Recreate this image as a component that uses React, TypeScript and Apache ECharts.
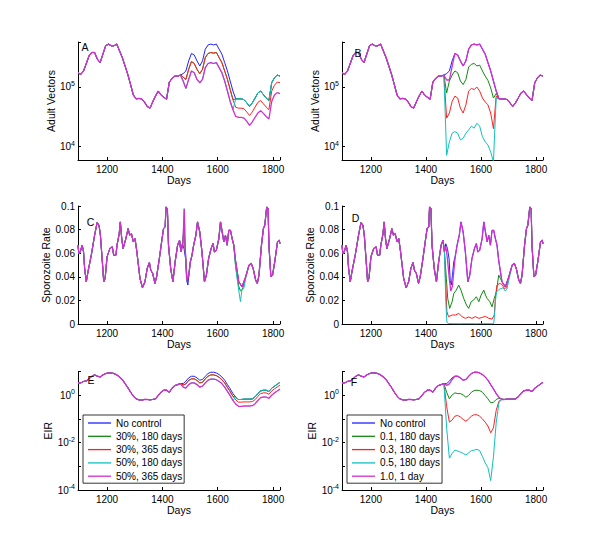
import React, { useEffect, useRef } from "react";
import * as echarts from "echarts";

// ---------- sampling grid (days) ----------
const DAYS = [1095,1105,1115,1125,1135,1145,1155,1165,1175,1185,1195,1205,1215,1225,1235,1245,1255,1265,1275,1285,1295,1305,1315,1325,1335,1345,1355,1365,1375,1385,1395,1405,1415,1425,1435,1445,1455,1465,1475,1485,1495,1505,1515,1525,1535,1545,1555,1565,1575,1585,1595,1605,1615,1625,1635,1645,1655,1665,1675,1685,1695,1705,1715,1725,1735,1745,1755,1765,1775,1785,1795,1805,1815,1825];

// ---------- Adult vectors ----------
const VEC_NO_CONTROL = [1.72e5,1.61e5,1.84e5,2.45e5,3.29e5,3.74e5,3.74e5,2.89e5,2.54e5,3.51e5,4.84e5,5.17e5,4.84e5,4.84e5,5.17e5,3.99e5,3.08e5,2.23e5,1.61e5,1.09e5,7.3e4,6.3e4,6.4e4,6.3e4,5.6e4,4.7e4,4.4e4,5.6e4,7.0e4,8.5e4,7.3e4,6.7e4,6.2e4,1.2e5,1.38e5,1.51e5,1.51e5,1.57e5,1.66e5,1.84e5,2.71e5,3.6e5,3.4e5,2.71e5,2.23e5,2.71e5,4.25e5,5.0e5,5.17e5,5.0e5,5.17e5,4.25e5,3.51e5,2.54e5,1.84e5,1.25e5,8.5e4,6.3e4,6.3e4,6.3e4,6.1e4,5.4e4,4.7e4,5.4e4,6.5e4,7.9e4,8.5e4,7.4e4,6.5e4,5.9e4,1.17e5,1.42e5,1.57e5,1.51e5];
// from day 1475 on
const VEC_30PCT = [1.45e5,1.33e5,1.96e5,2.65e5,2.45e5,1.96e5,1.66e5,1.96e5,3.08e5,3.6e5,3.74e5,3.65e5,3.74e5,3.08e5,2.54e5,1.84e5,1.33e5,9.0e4,6.1e4,4.55e4,4.4e4,4.4e4,4.3e4,3.8e4,3.33e4,3.8e4,4.6e4,5.5e4,5.9e4,5.2e4,4.6e4,4.15e4,8.5e4,1.06e5,1.2e5,1.17e5];
const VEC_50PCT = [1.25e5,9.4e4,1.33e5,1.84e5,1.72e5,1.33e5,1.17e5,1.33e5,2.09e5,2.45e5,2.54e5,2.45e5,2.54e5,2.09e5,1.72e5,1.25e5,8.5e4,5.7e4,4.15e4,3.2e4,3.1e4,3.1e4,3.0e4,2.64e4,2.27e4,2.6e4,3.1e4,3.65e4,4.0e4,3.6e4,3.2e4,2.9e4,5.7e4,7.3e4,8.0e4,7.7e4];
// from day 1475 to 1655
const VEC_B01 = [7.9e4,1.25e5,1.57e5,1.84e5,1.72e5,1.25e5,1.09e5,1.33e5,2.14e5,2.38e5,2.45e5,2.23e5,2.3e5,1.84e5,1.51e5,1.28e5,9.6e4,6.5e4,7.7e4];
const VEC_B03 = [3.0e4,3.65e4,5.7e4,7.0e4,6.5e4,4.4e4,3.65e4,5.0e4,8.5e4,9.4e4,9.0e4,9.9e4,8.5e4,6.5e4,5.6e4,5.0e4,3.65e4,2.0e4,7.0e4];
const VEC_B05 = [7.2e3,1.21e4,1.68e4,1.79e4,1.68e4,1.3e4,1.38e4,1.68e4,1.91e4,2.2e4,2.04e4,2.47e4,2.2e4,1.47e4,1.21e4,1.07e4,8.2e3,5.6e3,6.5e4];
const VEC_B1DAY = [1.3e5,1.3e5,2.2e5];

// ---------- Sporozoite rate ----------
const SPZ_DAYS = [1095,1098,1103,1110,1115,1119,1125,1131,1143,1155,1164,1171,1176,1183,1188,1193,1200,1210,1219,1224,1232,1236,1244,1248,1253,1258,1268,1276,1282,1288,1295,1301,1307,1319,1328,1337,1345,1353,1358,1365,1373,1379,1389,1398,1404,1410,1413,1418,1422,1430,1438,1446,1455,1462,1467,1472,1478,1484,1488,1492,1496,1501,1507,1513,1521,1527,1535,1543,1552,1559,1567,1576,1583,1588,1595,1604,1610,1616,1622,1628,1634,1640,1646,1652,1658,1664,1676,1688,1701,1713,1721,1728,1737,1743,1749,1758,1765,1770,1777,1782,1785,1792,1798,1806,1816,1822,1825];
const SPZ_NO_CONTROL = [0.0668,0.0597,0.0611,0.0668,0.0611,0.047,0.0358,0.0442,0.0583,0.0752,0.0859,0.0837,0.0752,0.0527,0.0358,0.0386,0.0569,0.0639,0.0654,0.0583,0.0583,0.0668,0.0766,0.0865,0.0724,0.0639,0.0724,0.0808,0.0752,0.0766,0.0696,0.0724,0.0625,0.0386,0.0307,0.0358,0.047,0.0521,0.0456,0.0428,0.0344,0.04,0.0555,0.071,0.0808,0.0823,0.0992,0.0977,0.0668,0.047,0.0358,0.0527,0.0668,0.071,0.0611,0.068,0.064,0.055,0.037,0.033,0.041,0.0527,0.0583,0.0668,0.0752,0.0865,0.078,0.0611,0.0358,0.0414,0.0555,0.0639,0.0682,0.0611,0.0625,0.0724,0.0865,0.078,0.0696,0.0752,0.0668,0.0794,0.0794,0.0724,0.0668,0.0541,0.0358,0.0315,0.04,0.0499,0.0513,0.047,0.0372,0.0344,0.0414,0.0668,0.0808,0.0837,0.0992,0.0977,0.0668,0.04,0.0414,0.0527,0.0696,0.071,0.0682];
const SPZ_C50_DAYS = [1467,1474,1479,1482,1488,1495,1501];
const SPZ_C50 = [0.0611,0.0668,0.0977,0.0668,0.0372,0.0414,0.0527];
const SPZ_C30_DAYS = [1467,1474,1478,1482,1487,1490,1495,1501];
const SPZ_C30 = [0.0611,0.07,0.082,0.065,0.045,0.036,0.0414,0.0527];
const SPZ_C30_END_DAYS = [1658,1664,1670,1676,1682,1688,1694,1701];
const SPZ_C30_END = [0.0668,0.05,0.04,0.032,0.028,0.029,0.033,0.04];
const SPZ_C50_END_DAYS = [1658,1664,1673,1682,1688,1694,1701];
const SPZ_C50_END = [0.0668,0.05,0.033,0.019,0.0296,0.03,0.0386];
const SPZ_D01_DAYS = [1467,1474,1479,1486,1495,1501,1510,1519,1527,1537,1547,1555,1564,1573,1583,1592,1600,1610,1616,1622,1632,1640,1648,1656,1664,1670,1676];
const SPZ_D01 = [0.0611,0.0386,0.0217,0.0132,0.0189,0.0259,0.0287,0.033,0.0287,0.0217,0.0161,0.0132,0.0189,0.0203,0.0231,0.0189,0.0245,0.0287,0.0245,0.0217,0.0189,0.0146,0.0217,0.0273,0.0414,0.0386,0.0358];
const SPZ_D03_DAYS = [1467,1472,1476,1482,1495,1507,1519,1531,1543,1555,1567,1579,1592,1604,1616,1628,1640,1648,1653,1658,1668,1676,1685,1692];
const SPZ_D03 = [0.0611,0.033,0.0104,0.0062,0.0076,0.0076,0.009,0.0062,0.0048,0.0059,0.0048,0.0062,0.0048,0.0056,0.0065,0.0048,0.0042,0.0076,0.0245,0.033,0.0344,0.0335,0.0301,0.0307];
const SPZ_D05_DAYS = [1467,1472,1476,1482,1495,1520,1550,1580,1610,1640,1646,1649,1652,1656,1668,1680,1688,1694,1701];
const SPZ_D05 = [0.0611,0.0189,0.0014,0.0004,0.0003,0.0002,0.0003,0.0002,0.0003,0.0002,0.0004,0.0076,0.0189,0.0273,0.0296,0.0307,0.0279,0.0296,0.0372];
const SPZ_D1DAY_DAYS = [1467,1472,1478,1484,1490,1496,1501];
const SPZ_D1DAY = [0.0611,0.066,0.055,0.04,0.028,0.032,0.045];

// ---------- EIR ----------
const EIR_NO_CONTROL = [3.3,3.3,3.8,4.0,4.9,6.3,7.2,6.3,5.9,7.2,8.2,8.7,8.7,8.2,7.2,5.9,4.6,3.1,2.1,1.34,0.91,0.7,0.64,0.62,0.66,0.66,0.64,0.66,0.7,0.97,1.34,1.62,1.62,1.34,2.0,2.55,2.8,3.1,3.1,3.9,5.4,6.3,6.3,5.4,4.3,4.6,6.3,8.2,9.3,9.3,8.7,7.4,5.9,4.3,2.8,1.85,1.17,0.82,0.66,0.66,0.68,0.68,0.68,0.7,0.85,1.17,1.52,1.62,1.62,1.43,1.97,2.4,2.9,3.5];
const EIR_30PCT = [2.7,3.0,4.2,4.9,4.9,4.2,3.3,3.5,4.9,6.3,7.2,7.2,6.7,5.7,4.5,3.3,2.15,1.42,0.9,0.63,0.51,0.51,0.52,0.52,0.52,0.54,0.65,0.9,1.17,1.25,1.25,1.1,1.5,1.85,2.2,2.7];
const EIR_50PCT = [2.2,2.0,2.8,3.3,3.3,2.8,2.2,2.4,3.3,4.3,4.8,4.8,4.5,3.8,3.1,2.2,1.45,0.96,0.6,0.42,0.34,0.34,0.35,0.35,0.35,0.36,0.44,0.6,0.79,0.84,0.84,0.74,1.0,1.25,1.5,1.8];
// from day 1475 to 1675
const EIR_F01 = [1.34,0.7,1.03,1.25,1.17,1.17,1.03,0.82,0.97,1.34,1.57,1.62,1.57,1.34,0.97,0.7,0.48,0.5,0.66,0.75,0.7];
const EIR_F03 = [0.34,0.073,0.089,0.13,0.14,0.12,0.095,0.08,0.1,0.13,0.15,0.15,0.13,0.1,0.073,0.05,0.026,0.042,0.23,0.56,0.66];
const EIR_F05 = [0.042,0.0022,0.0035,0.0048,0.0044,0.004,0.0035,0.003,0.0037,0.0046,0.0048,0.0052,0.0046,0.0026,0.0014,0.00088,0.00025,0.0025,0.068,0.48,0.66];
const EIR_F1DAY = [2.6,3.0,4.6];

const NAMES_LEFT = ["No control", "30%, 180 days", "30%, 365 days", "50%, 180 days", "50%, 365 days"];
const NAMES_RIGHT = ["No control", "0.1, 180 days", "0.3, 180 days", "0.5, 180 days", "1.0, 1 day"];
const PANEL_LETTERS = ["A", "B", "C", "D", "E", "F"];

const COLORS = ["#2020ff", "#108a10", "#ff2020", "#10c0c0", "#d030d0"];
const WIDTHS = [1, 1, 1, 1, 1.3];
const FONT = "'Liberation Sans', Arial, Helvetica, sans-serif";

const POST = DAYS.slice(38);

function pts(days: number[], vals: number[]) {
  return days.map((d, i) => [d, vals[i]]);
}
function splice(base: number[][], segDays: number[], segVals: number[]) {
  const s = segDays[0];
  const e = segDays[segDays.length - 1];
  const out = base.filter((p) => p[0] < s || p[0] > e);
  segDays.forEach((d, i) => out.push([d, segVals[i]]));
  return out.sort((a, b) => a[0] - b[0]);
}

function buildOption() {
  const vecNC = pts(DAYS, VEC_NO_CONTROL);
  const spzNC = pts(SPZ_DAYS, SPZ_NO_CONTROL);
  const eirNC = pts(DAYS, EIR_NO_CONTROL);
  const P180 = POST.slice(0, 19);

  const panels: number[][][][] = [
    [
      vecNC,
      splice(vecNC, P180, VEC_30PCT.slice(0, 19)),
      splice(vecNC, POST, VEC_30PCT),
      splice(vecNC, P180, VEC_50PCT.slice(0, 19)),
      splice(vecNC, POST, VEC_50PCT),
    ],
    [
      vecNC,
      splice(vecNC, P180, VEC_B01),
      splice(vecNC, P180, VEC_B03),
      splice(vecNC, P180, VEC_B05),
      splice(vecNC, POST.slice(0, 3), VEC_B1DAY),
    ],
    [
      spzNC,
      splice(splice(spzNC, SPZ_C30_DAYS, SPZ_C30), SPZ_C30_END_DAYS, SPZ_C30_END),
      splice(spzNC, SPZ_C30_DAYS, SPZ_C30),
      splice(splice(spzNC, SPZ_C50_DAYS, SPZ_C50), SPZ_C50_END_DAYS, SPZ_C50_END),
      splice(spzNC, SPZ_C50_DAYS, SPZ_C50),
    ],
    [
      spzNC,
      splice(spzNC, SPZ_D01_DAYS, SPZ_D01),
      splice(spzNC, SPZ_D03_DAYS, SPZ_D03),
      splice(spzNC, SPZ_D05_DAYS, SPZ_D05),
      splice(spzNC, SPZ_D1DAY_DAYS, SPZ_D1DAY),
    ],
    [
      eirNC,
      splice(eirNC, P180, EIR_30PCT.slice(0, 19)),
      splice(eirNC, POST, EIR_30PCT),
      splice(eirNC, P180, EIR_50PCT.slice(0, 19)),
      splice(eirNC, POST, EIR_50PCT),
    ],
    [
      eirNC,
      splice(eirNC, POST.slice(0, 21), EIR_F01),
      splice(eirNC, POST.slice(0, 21), EIR_F03),
      splice(eirNC, POST.slice(0, 21), EIR_F05),
      splice(eirNC, POST.slice(0, 3), EIR_F1DAY),
    ],
  ];

  const grids = [
    { left: 78, top: 42, width: 202, height: 118 },
    { left: 342, top: 42, width: 201, height: 118 },
    { left: 78, top: 206, width: 202, height: 118 },
    { left: 342, top: 206, width: 201, height: 118 },
    { left: 78, top: 371.5, width: 202, height: 118.5 },
    { left: 342, top: 371.5, width: 201, height: 118.5 },
  ];

  const axisCommon = {
    axisLine: { show: true, onZero: false, lineStyle: { color: "#000", width: 1 } },
    axisTick: { show: true, inside: true, length: 3, lineStyle: { color: "#000", width: 1 } },
    splitLine: { show: false },
    nameLocation: "middle",
    nameTextStyle: { color: "#000", fontSize: 10.5, fontFamily: FONT },
  };

  const xAxis = grids.map((_, i) => ({
    ...axisCommon,
    type: "value",
    gridIndex: i,
    min: 1095,
    max: 1825,
    splitNumber: 4,
    name: "Days",
    nameGap: 14,
    axisLabel: {
      color: "#000",
      fontSize: 10,
      fontFamily: FONT,
      margin: 4,
      formatter: (v: number) => (Math.abs(v % 200) < 1e-6 ? String(v) : ""),
    },
  }));

  const rich = {
    b: { fontSize: 10, color: "#000", fontFamily: FONT },
    s: { fontSize: 7, color: "#000", fontFamily: FONT, padding: [0, 0, 7, 0] },
  };
  const supFmt = (step: number) => (v: number) => {
    const l = Math.log10(v);
    const r = Math.round(l);
    if (Math.abs(l - r) > 1e-6 || r % step !== 0) return "";
    return "{b|10}{s|" + r + "}";
  };

  const logAxis = (i: number, min: number, max: number, step: number, name: string, gap: number) => ({
    ...axisCommon,
    type: "log",
    logBase: 10,
    gridIndex: i,
    min,
    max,
    name,
    nameGap: gap,
    axisLabel: { margin: 3, formatter: supFmt(step), rich },
  });
  const linAxis = (i: number, name: string, gap: number) => ({
    ...axisCommon,
    type: "value",
    gridIndex: i,
    min: 0,
    max: 0.1,
    interval: 0.02,
    name,
    nameGap: gap,
    axisLabel: { margin: 3, color: "#000", fontSize: 10, fontFamily: FONT },
  });

  const yAxis = [
    logAxis(0, 6000, 560000, 1, "Adult Vectors", 21),
    logAxis(1, 6000, 560000, 1, "Adult Vectors", 22),
    linAxis(2, "Sporozoite Rate", 25),
    linAxis(3, "Sporozoite Rate", 25),
    logAxis(4, 1e-4, 10, 2, "EIR", 25),
    logAxis(5, 1e-4, 10, 2, "EIR", 25),
  ];

  const series: any[] = [];
  panels.forEach((lines, i) => {
    const names = i % 2 === 0 ? NAMES_LEFT : NAMES_RIGHT;
    lines.forEach((data, k) => {
      series.push({
        type: "line",
        name: names[k],
        xAxisIndex: i,
        yAxisIndex: i,
        data,
        showSymbol: false,
        symbol: "none",
        color: COLORS[k],
        lineStyle: { width: WIDTHS[k], color: COLORS[k] },
        itemStyle: { color: COLORS[k] },
        silent: true,
        emphasis: { disabled: true },
        clip: true,
      });
    });
  });

  const legendCommon = {
    orient: "vertical",
    top: 415,
    icon: "rect",
    itemWidth: 23,
    itemHeight: 1.3,
    itemGap: 1.3,
    padding: [2, 2, 1, 5],
    borderColor: "#000",
    borderWidth: 0.8,
    backgroundColor: "#fff",
    selectedMode: false,
    textStyle: { fontSize: 10, color: "#000", fontFamily: FONT, lineHeight: 12 },
    z: 10,
  };

  const letterPos = [
    [85, 46.5],
    [358, 53],
    [90.5, 222],
    [355.5, 218.3],
    [91, 380],
    [354, 382.3],
  ];

  return {
    animation: false,
    backgroundColor: "#fff",
    grid: grids,
    xAxis,
    yAxis,
    series,
    legend: [
      { ...legendCommon, left: 83, data: NAMES_LEFT },
      { ...legendCommon, left: 347, data: NAMES_RIGHT },
    ],
    graphic: {
      elements: PANEL_LETTERS.map((t, i) => ({
        type: "text",
        x: letterPos[i][0],
        y: letterPos[i][1],
        z: 20,
        style: {
          text: t,
          fill: "#000",
          fontSize: 10.5,
          fontFamily: FONT,
          align: "center",
          verticalAlign: "middle",
        },
      })),
    },
  };
}

export default function App() {
  const ref = useRef<HTMLDivElement>(null);
  useEffect(() => {
    if (!ref.current) return;
    const chart = echarts.init(ref.current, null, { renderer: "svg" });
    chart.setOption(buildOption() as any);
    return () => chart.dispose();
  }, []);
  return (
    <div
      ref={ref}
      style={{ position: "fixed", left: 0, top: 0, width: 600, height: 550, background: "#fff" }}
    />
  );
}
